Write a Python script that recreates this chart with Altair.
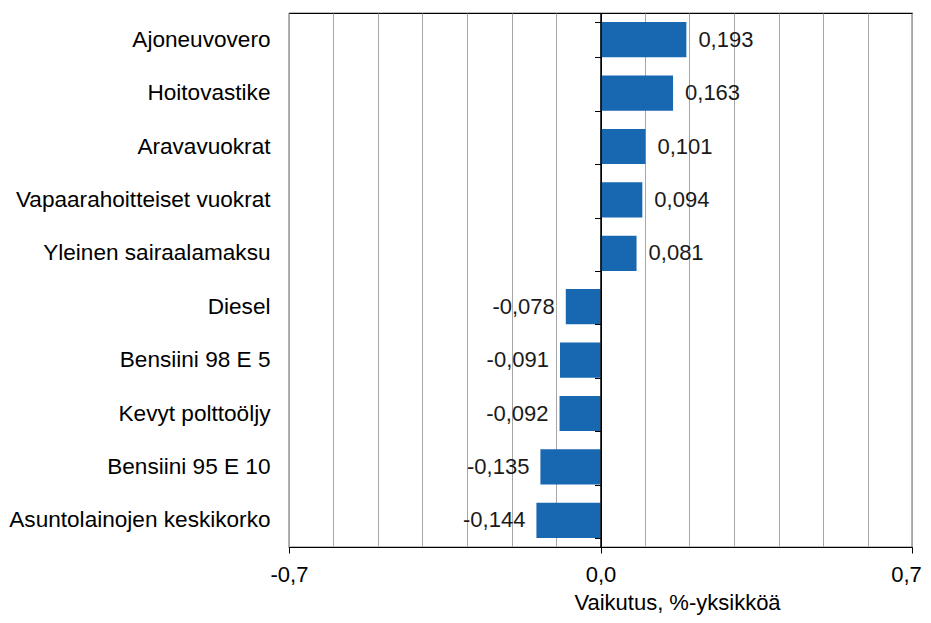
import altair as alt
import pandas as pd

categories = [
    "Ajoneuvovero",
    "Hoitovastike",
    "Aravavuokrat",
    "Vapaarahoitteiset vuokrat",
    "Yleinen sairaalamaksu",
    "Diesel",
    "Bensiini 98 E 5",
    "Kevyt polttoöljy",
    "Bensiini 95 E 10",
    "Asuntolainojen keskikorko",
]
values = [0.193, 0.163, 0.101, 0.094, 0.081, -0.078, -0.091, -0.092, -0.135, -0.144]
value_labels = [f"{v:.3f}".replace(".", ",") for v in values]
axis_domain = [-0.7, 0.7]
grid_ticks = [round(-0.7 + 0.1 * i, 1) for i in range(15)]
axis_title = "Vaikutus, %-yksikköä"

FONT = "Liberation Sans"
FS = 22
BAR_COLOR = "#1767b1"

df = pd.DataFrame({"kohde": categories, "vaikutus": values, "teksti": value_labels})

W, H = 623, 534

y_scale = alt.Scale(paddingInner=0.34, paddingOuter=0.17)

x_axis = alt.Axis(
    values=grid_ticks,
    grid=True,
    gridColor={
        "condition": {"test": "abs(datum.value) < 0.001", "value": "#000000"},
        "value": "#a6a6a6",
    },
    gridWidth=1,
    tickColor={
        "condition": {
            "test": "abs(datum.value) < 0.001 || abs(datum.value) > 0.69",
            "value": "#000000",
        },
        "value": "transparent",
    },
    tickSize=6,
    domainColor="#000000",
    labelExpr=(
        "abs(datum.value) < 0.001 || abs(datum.value) > 0.69 ? "
        "((datum.value < 0 ? '-' : '') + replace(format(abs(datum.value), '.1f'), '.', ',')) : ''"
    ),
    labelOffset={"condition": {"test": "datum.value > 0.69", "value": -6}, "value": 0},
    labelFlush=False,
    labelOverlap=False,
    labelFont=FONT,
    labelFontSize=FS,
    labelColor="#000000",
    labelPadding=11,
    title=axis_title,
    titleFont=FONT,
    titleFontSize=FS,
    titleFontWeight="normal",
    titleColor="#000000",
    titleAlign="center",
    titleBaseline="alphabetic",
    titleX=388,
    titleY=62,
)

x_enc = alt.X(
    "vaikutus:Q",
    scale=alt.Scale(domain=axis_domain, nice=False, zero=False),
    axis=x_axis,
)

bars = alt.Chart(df).mark_bar(color=BAR_COLOR).encode(
    x=x_enc,
    y=alt.Y(
        "kohde:N",
        sort=categories,
        title=None,
        scale=y_scale,
        axis=alt.Axis(
            orient="left",
            ticks=False,
            domain=False,
            labelFont=FONT,
            labelFontSize=22.6,
            labelColor="#000000",
            labelPadding=19,
            labelLimit=400,
        ),
    ),
)

text_pos = (
    alt.Chart(df)
    .transform_filter("datum.vaikutus >= 0")
    .mark_text(align="left", baseline="middle", dx=12, font=FONT, fontSize=FS, color="#1a1a1a")
    .encode(
        x=alt.X("vaikutus:Q"),
        y=alt.Y("kohde:N", sort=categories, scale=y_scale, axis=None),
        text="teksti:N",
    )
)

text_neg = (
    alt.Chart(df)
    .transform_filter("datum.vaikutus < 0")
    .mark_text(align="right", baseline="middle", dx=-11, font=FONT, fontSize=FS, color="#1a1a1a")
    .encode(
        x=alt.X("vaikutus:Q"),
        y=alt.Y(
            "kohde:N",
            sort=categories,
            scale=y_scale,
            title=None,
            axis=alt.Axis(
                orient="left",
                offset=-(W / 2),
                labels=False,
                tickBand="extent",
                tickSize=6,
                tickColor="#000000",
                domainColor="#000000",
                domainWidth=1.5,
                zindex=2,
                title=None,
            ),
        ),
        text="teksti:N",
    )
)

chart = (
    alt.layer(bars, text_pos, text_neg)
    .resolve_axis(y="independent")
    .properties(
        width=W,
        height=H,
        autosize=alt.AutoSizeParams(type="none"),
        padding={"left": 281, "top": 5, "right": 11, "bottom": 68},
        background="white",
    )
    .configure_view(stroke="#000000", strokeWidth=1.2)
)

chart.save("out.html", embed_options={"renderer": "svg", "actions": False})
